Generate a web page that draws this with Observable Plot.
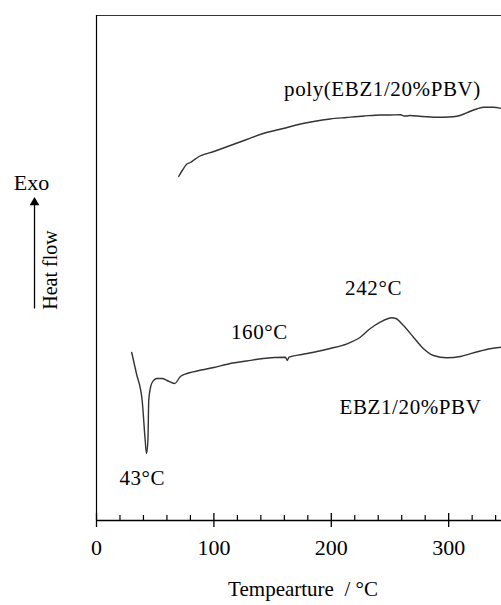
<!DOCTYPE html>
<html>
<head>
<meta charset="utf-8">
<script src="https://cdn.jsdelivr.net/npm/d3@7"></script>
<script src="https://cdn.jsdelivr.net/npm/@observablehq/plot@0.6"></script>
<style>
  html, body { margin: 0; padding: 0; background: #fff; }
  #chart { width: 501px; height: 605px; overflow: hidden; }
  .lbl text { letter-spacing: 0.6px; }
</style>
</head>
<body>
<div id="chart"></div>
<script>
// Temperature (°C) and heat flow (arbitrary units, exo up)
const polyTemp = [70, 73, 77, 80, 83, 86, 100, 114, 128, 142, 159, 172, 185, 199, 213, 228, 242, 250, 259, 262, 264, 267, 277, 290, 300, 307, 313, 318, 324, 330, 338, 345];
const polyHeat = [344, 350, 356.5, 358, 360.5, 363, 369, 375, 381, 387, 392, 396, 399, 401.5, 403, 404.5, 405.5, 405.5, 405.7, 404.5, 404.5, 405, 404, 403.3, 403.5, 404.3, 406.5, 409, 411.5, 413.3, 413.3, 412];

const monoTemp = [30, 34, 38.9, 41.5, 42.6, 43.8, 44.5, 46, 47.4, 51.6, 55.9, 60.1, 66.6, 71.5, 77, 80, 100, 114, 128, 142, 161, 162.5, 164, 175, 185, 199, 213.4, 224.7, 233, 241.7, 251.6, 255, 261.5, 270, 278.6, 287, 298.5, 310, 318, 327, 335, 345];
const monoHeat = [168, 147, 120, 80, 67, 80, 120, 133, 138, 142, 142, 140, 137, 144, 147, 148, 153, 157, 159.5, 162, 163.3, 160, 163.3, 166, 168.3, 172, 176.7, 183.3, 191.7, 198.3, 202.7, 202, 195, 183.3, 171.7, 165, 162.7, 164, 166.7, 169.5, 171.7, 173.3];

const majorTicks = [0, 100, 200, 300];
const minorTicks = [20, 40, 60, 80, 120, 140, 160, 180, 220, 240, 260, 280, 320, 340];

const labelText = ["poly(EBZ1/20%PBV)", "160°C", "242°C", "EBZ1/20%PBV", "43°C"];
const labelT = [243.6, 138.8, 236, 267.5, 39];
const labelH = [431, 188, 232, 113, 42];

const xTitle = "Tempearture  / °C";
const exoText = "Exo";
const heatText = "Heat flow";

const poly = polyTemp.map((t, i) => ({t, h: polyHeat[i]}));
const mono = monoTemp.map((t, i) => ({t, h: monoHeat[i]}));
const labels = labelText.map((s, i) => ({s, t: labelT[i], h: labelH[i]}));

const chart = Plot.plot({
  width: 501,
  height: 605,
  marginLeft: 96,
  marginRight: 0,
  marginTop: 15,
  marginBottom: 85,
  style: {fontFamily: "'Liberation Serif', 'Times New Roman', serif", fontSize: "21px", background: "#fff", color: "#000"},
  x: {domain: [0, 345]},
  y: {domain: [0, 505], axis: null},
  marks: [
    Plot.ruleY([0], {stroke: "#000", strokeWidth: 1.5}),
    Plot.ruleY([505], {stroke: "#333", strokeWidth: 1.2}),
    Plot.ruleX([0], {stroke: "#000", strokeWidth: 1.2}),
    Plot.ruleX(majorTicks, {y1: 0, y2: 7, stroke: "#000", strokeWidth: 1.3}),
    Plot.ruleX(minorTicks, {y1: 0, y2: 5, stroke: "#000", strokeWidth: 1.2}),
    Plot.axisX({ticks: majorTicks, tickSize: 7, tickPadding: 12, fontSize: 22, label: null, strokeWidth: 1.3, tickFormat: d => String(d)}),
    Plot.text([xTitle], {frameAnchor: "bottom", textAnchor: "middle", dy: 75, dx: 4, text: d => d, fontSize: 21}),
    Plot.line(poly, {x: "t", y: "h", stroke: "#333", strokeWidth: 1.4, curve: "monotone-x"}),
    Plot.line(mono, {x: "t", y: "h", stroke: "#333", strokeWidth: 1.4, curve: "monotone-x"}),
    Plot.text(labels, {x: "t", y: "h", text: "s", fontSize: 21, className: "lbl"}),
    Plot.text([exoText], {frameAnchor: "left", textAnchor: "middle", dx: -65, dy: -85, text: d => d, fontSize: 22}),
    Plot.text([heatText], {frameAnchor: "left", textAnchor: "middle", dx: -46, dy: 2, text: d => d, fontSize: 20, rotate: -90}),
    Plot.link([0], {x: () => -52.8, x2: () => -52.8, y1: () => 212, y2: () => 316, stroke: "#000", strokeWidth: 1.3}),
    Plot.dot([0], {x: () => -52.8, y: () => 318, symbol: "triangle", r: 3.6, fill: "#000", stroke: null})
  ]
});
document.getElementById("chart").append(chart);
</script>
</body>
</html>
